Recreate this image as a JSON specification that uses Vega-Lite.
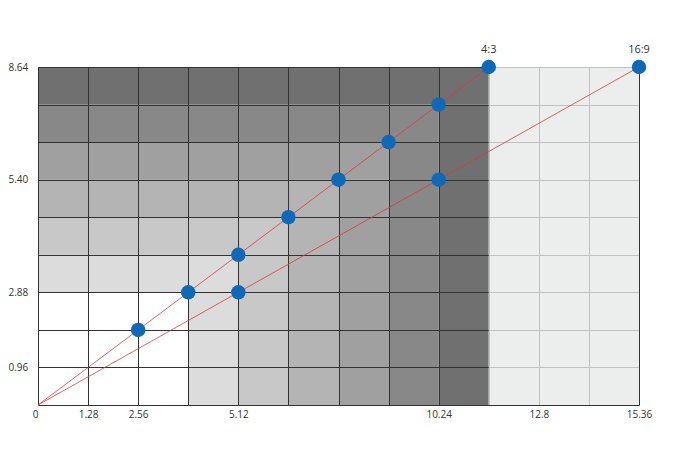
{
  "$schema": "https://vega.github.io/schema/vega-lite/v6.json",
  "width": 601,
  "height": 338,
  "autosize": {"type": "none"},
  "padding": {"left": 38, "top": 67, "right": 38, "bottom": 66},
  "background": "white",
  "config": {"view": {"stroke": null}, "font": "Open Sans"},
  "datasets": {
    "regions": [
      {"level": "L1", "x": 0, "x2": 5.12, "y": 2.88, "y2": 3.84},
      {"level": "L1", "x": 3.84, "x2": 5.12, "y": 0, "y2": 2.88},
      {"level": "L2", "x": 0, "x2": 6.4, "y": 3.84, "y2": 4.8},
      {"level": "L2", "x": 5.12, "x2": 6.4, "y": 0, "y2": 3.84},
      {"level": "L3", "x": 0, "x2": 7.68, "y": 4.8, "y2": 5.76},
      {"level": "L3", "x": 6.4, "x2": 7.68, "y": 0, "y2": 4.8},
      {"level": "L4", "x": 0, "x2": 8.96, "y": 5.76, "y2": 6.72},
      {"level": "L4", "x": 7.68, "x2": 8.96, "y": 0, "y2": 5.76},
      {"level": "L5", "x": 0, "x2": 10.24, "y": 6.72, "y2": 7.68},
      {"level": "L5", "x": 8.96, "x2": 10.24, "y": 0, "y2": 6.72},
      {"level": "L6", "x": 0, "x2": 11.52, "y": 7.68, "y2": 8.64},
      {"level": "L6", "x": 10.24, "x2": 11.52, "y": 0, "y2": 7.68},
      {"level": "side", "x": 11.52, "x2": 15.36, "y": 0, "y2": 8.64}
    ],
    "series": [
      {"ratio": "4:3", "x": 0, "y": 0},
      {"ratio": "4:3", "x": 2.56, "y": 1.92},
      {"ratio": "4:3", "x": 3.84, "y": 2.88},
      {"ratio": "4:3", "x": 5.12, "y": 3.84},
      {"ratio": "4:3", "x": 6.4, "y": 4.8},
      {"ratio": "4:3", "x": 7.68, "y": 5.76},
      {"ratio": "4:3", "x": 8.96, "y": 6.72},
      {"ratio": "4:3", "x": 10.24, "y": 7.68},
      {"ratio": "4:3", "x": 11.52, "y": 8.64},
      {"ratio": "16:9", "x": 0, "y": 0},
      {"ratio": "16:9", "x": 5.12, "y": 2.88},
      {"ratio": "16:9", "x": 10.24, "y": 5.76},
      {"ratio": "16:9", "x": 15.36, "y": 8.64}
    ],
    "tags": [
      {"label": "4:3", "x": 11.52, "y": 8.64},
      {"label": "16:9", "x": 15.36, "y": 8.64}
    ]
  },
  "layer": [
    {
      "data": {"name": "regions"},
      "mark": {"type": "rect"},
      "encoding": {
        "x": {
          "field": "x",
          "type": "quantitative",
          "scale": {"domain": [0, 15.36], "nice": false, "zero": false},
          "axis": {
            "title": null,
            "values": [0, 1.28, 2.56, 3.84, 5.12, 6.4, 7.68, 8.96, 10.24, 11.52, 12.8, 14.08, 15.36],
            "tickCount": 30,
            "labelExpr": "(datum.value == 0 || datum.value == 1.28 || datum.value == 2.56 || datum.value == 5.12 || datum.value == 10.24 || datum.value == 12.8 || datum.value == 15.36) ? toString(datum.value) : ''",
            "labelAlign": {"condition": {"test": "datum.value == 0", "value": "right"}, "value": "center"},
            "grid": true,
            "gridColor": "#333333",
            "gridOpacity": 1,
            "gridWidth": 1,
            "ticks": false,
            "tickSize": 0,
            "domain": false,
            "labelFontSize": 10,
            "labelColor": "#333333",
            "labelPadding": 4,
            "labelOverlap": false,
            "labelFlush": false
          }
        },
        "x2": {"field": "x2"},
        "y": {
          "field": "y",
          "type": "quantitative",
          "scale": {"domain": [0, 8.64], "nice": false, "zero": false},
          "axis": {
            "title": null,
            "values": [0, 0.96, 1.92, 2.88, 3.84, 4.8, 5.76, 6.72, 7.68, 8.64],
            "tickCount": 30,
            "labelExpr": "datum.value == 0.96 ? '0.96' : datum.value == 2.88 ? '2.88' : datum.value == 5.76 ? '5.40' : datum.value == 8.64 ? '8.64' : ''",
            "grid": true,
            "gridColor": "#333333",
            "gridOpacity": 1,
            "gridWidth": 1,
            "ticks": false,
            "tickSize": 0,
            "domain": false,
            "labelFontSize": 10,
            "labelColor": "#333333",
            "labelAlign": "left",
            "labelPadding": 30,
            "labelOverlap": false,
            "labelFlush": false,
            "labelBound": false
          }
        },
        "y2": {"field": "y2"},
        "fill": {
          "condition": {"test": "datum.level == 'side'", "value": "#e7e9e8"},
          "value": "#333333"
        },
        "opacity": {
          "condition": [
            {"test": "datum.level == 'L1'", "value": 0.172},
            {"test": "datum.level == 'L2'", "value": 0.27},
            {"test": "datum.level == 'L3'", "value": 0.368},
            {"test": "datum.level == 'L4'", "value": 0.466},
            {"test": "datum.level == 'L5'", "value": 0.583},
            {"test": "datum.level == 'L6'", "value": 0.7}
          ],
          "value": 0.784
        }
      }
    },
    {
      "data": {"name": "series"},
      "mark": {"type": "line", "color": "#d93a3a", "strokeWidth": 0.8},
      "encoding": {
        "x": {"field": "x", "type": "quantitative"},
        "y": {"field": "y", "type": "quantitative"},
        "detail": {"field": "ratio", "type": "nominal"},
        "order": {"field": "x", "type": "quantitative"}
      }
    },
    {
      "data": {"name": "series"},
      "transform": [{"filter": "datum.x > 0"}],
      "mark": {"type": "circle", "color": "#0f69b7", "opacity": 1, "size": 210},
      "encoding": {
        "x": {"field": "x", "type": "quantitative"},
        "y": {"field": "y", "type": "quantitative"}
      }
    },
    {
      "data": {"name": "tags"},
      "mark": {"type": "text", "dy": -17, "fontSize": 11, "font": "Open Sans", "color": "#333333"},
      "encoding": {
        "x": {"field": "x", "type": "quantitative"},
        "y": {"field": "y", "type": "quantitative"},
        "text": {"field": "label", "type": "nominal"}
      }
    }
  ]
}
